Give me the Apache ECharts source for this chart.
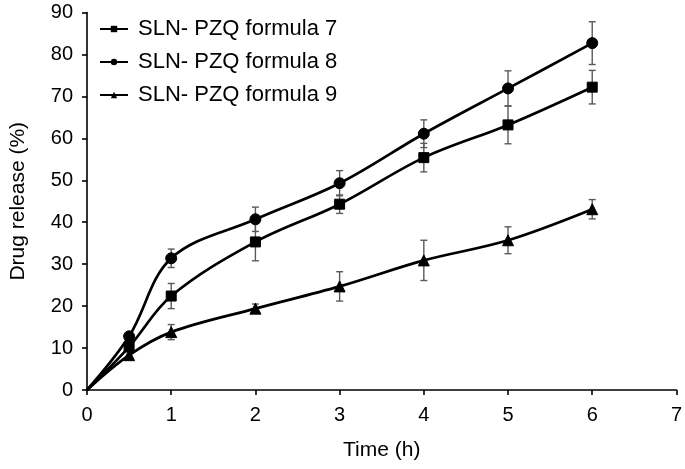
<!DOCTYPE html>
<html><head><meta charset="utf-8">
<script src="https://cdn.jsdelivr.net/npm/echarts@6/dist/echarts.min.js"></script>
<style>html,body{margin:0;padding:0;background:#fff}#c{width:685px;height:469px}</style>
</head><body><div id="c"></div>
<script>
const times = [0, 0.5, 1, 2, 3, 4, 5, 6];
const seriesNames = ['SLN- PZQ formula 7', 'SLN- PZQ formula 8', 'SLN- PZQ formula 9'];
const f7 = [0, 10.3, 22.4, 35.3, 44.3, 55.4, 63.2, 72.2];
const f8 = [0, 12.8, 31.4, 40.7, 49.3, 61.1, 71.9, 82.7];
const f9 = [0, 8.3, 13.8, 19.4, 24.7, 30.9, 35.7, 43.1];
const sd7 = [0, 0.8, 3.0, 4.5, 2.2, 3.4, 4.5, 4.0];
const sd8 = [0, 0.8, 2.2, 2.9, 3.0, 3.3, 4.2, 5.1];
const sd9 = [0, 0.8, 1.8, 1.1, 3.5, 4.8, 3.2, 2.3];
const xTicks = [0, 1, 2, 3, 4, 5, 6, 7];
const yTicks = [0, 10, 20, 30, 40, 50, 60, 70, 80, 90];

const FONT = 'Liberation Sans, Arial, sans-serif';
const chart = echarts.init(document.getElementById('c'));

function pairs(v){ return times.map((t,i)=>[t, v[i]]); }
function errData(v, sd){ return times.map((t,i)=>[t, v[i]-sd[i], v[i]+sd[i]]).filter((d,i)=>sd[i]>0 && times[i]>0); }

function errSeries(v, sd){
  return {
    type: 'custom',
    z: 1,
    silent: true,
    data: errData(v, sd),
    renderItem: function(params, api){
      const x = api.value(0);
      const lo = api.coord([x, api.value(1)]);
      const hi = api.coord([x, api.value(2)]);
      const w = 3.5;
      const st = {stroke: '#5a5a5a', lineWidth: 1.4};
      return {type: 'group', children: [
        {type: 'line', shape: {x1: lo[0], y1: lo[1], x2: hi[0], y2: hi[1]}, style: st},
        {type: 'line', shape: {x1: lo[0]-w, y1: lo[1], x2: lo[0]+w, y2: lo[1]}, style: st},
        {type: 'line', shape: {x1: hi[0]-w, y1: hi[1], x2: hi[0]+w, y2: hi[1]}, style: st}
      ]};
    }
  };
}

function lineSeries(name, v, symbol, size){
  return {
    name: name, type: 'line', data: pairs(v), smooth: 0.35, z: 3,
    symbol: symbol, symbolSize: function(val){ return val[0] === 0 ? 0 : size; },
    showAllSymbol: true,
    lineStyle: {color: '#000', width: 2.7},
    itemStyle: {color: '#000', borderColor: '#000'},
    emphasis: {disabled: true}
  };
}

chart.setOption({
  animation: false,
  backgroundColor: '#fff',
  grid: {left: 83, right: 7, top: 12.5, bottom: 79, containLabel: false},
  legend: {
    orient: 'vertical', left: 94, top: 13, itemWidth: 28, itemHeight: 8, itemGap: 11,
    textStyle: {fontFamily: FONT, fontSize: 22, color: '#000', padding: [0, 0, 0, 5]},
    data: seriesNames
  },
  xAxis: {
    type: 'value', min: xTicks[0], max: xTicks[xTicks.length-1], interval: 1,
    name: 'Time (h)', nameLocation: 'middle', nameGap: 50,
    nameTextStyle: {fontFamily: FONT, fontSize: 21, color: '#000'},
    axisLine: {lineStyle: {color: '#000', width: 1.6}},
    axisTick: {show: true, inside: false, length: 5, lineStyle: {color: '#000', width: 1.6}},
    axisLabel: {fontFamily: FONT, fontSize: 20, color: '#000', margin: 15},
    splitLine: {show: false}
  },
  yAxis: {
    type: 'value', min: yTicks[0], max: yTicks[yTicks.length-1], interval: 10,
    name: 'Drug release (%)', nameLocation: 'middle', nameGap: 58, nameRotate: 90,
    nameTextStyle: {fontFamily: FONT, fontSize: 21, color: '#000'},
    axisLine: {show: true, lineStyle: {color: '#000', width: 1.6}},
    axisTick: {show: true, inside: false, length: 5, lineStyle: {color: '#000', width: 1.6}},
    axisLabel: {fontFamily: FONT, fontSize: 20, color: '#000', margin: 14},
    splitLine: {show: false}
  },
  series: [
    errSeries(f7, sd7), errSeries(f8, sd8), errSeries(f9, sd9),
    lineSeries(seriesNames[0], f7, 'rect', 10),
    lineSeries(seriesNames[1], f8, 'circle', 11),
    lineSeries(seriesNames[2], f9, 'triangle', 11)
  ]
});
</script></body></html>
